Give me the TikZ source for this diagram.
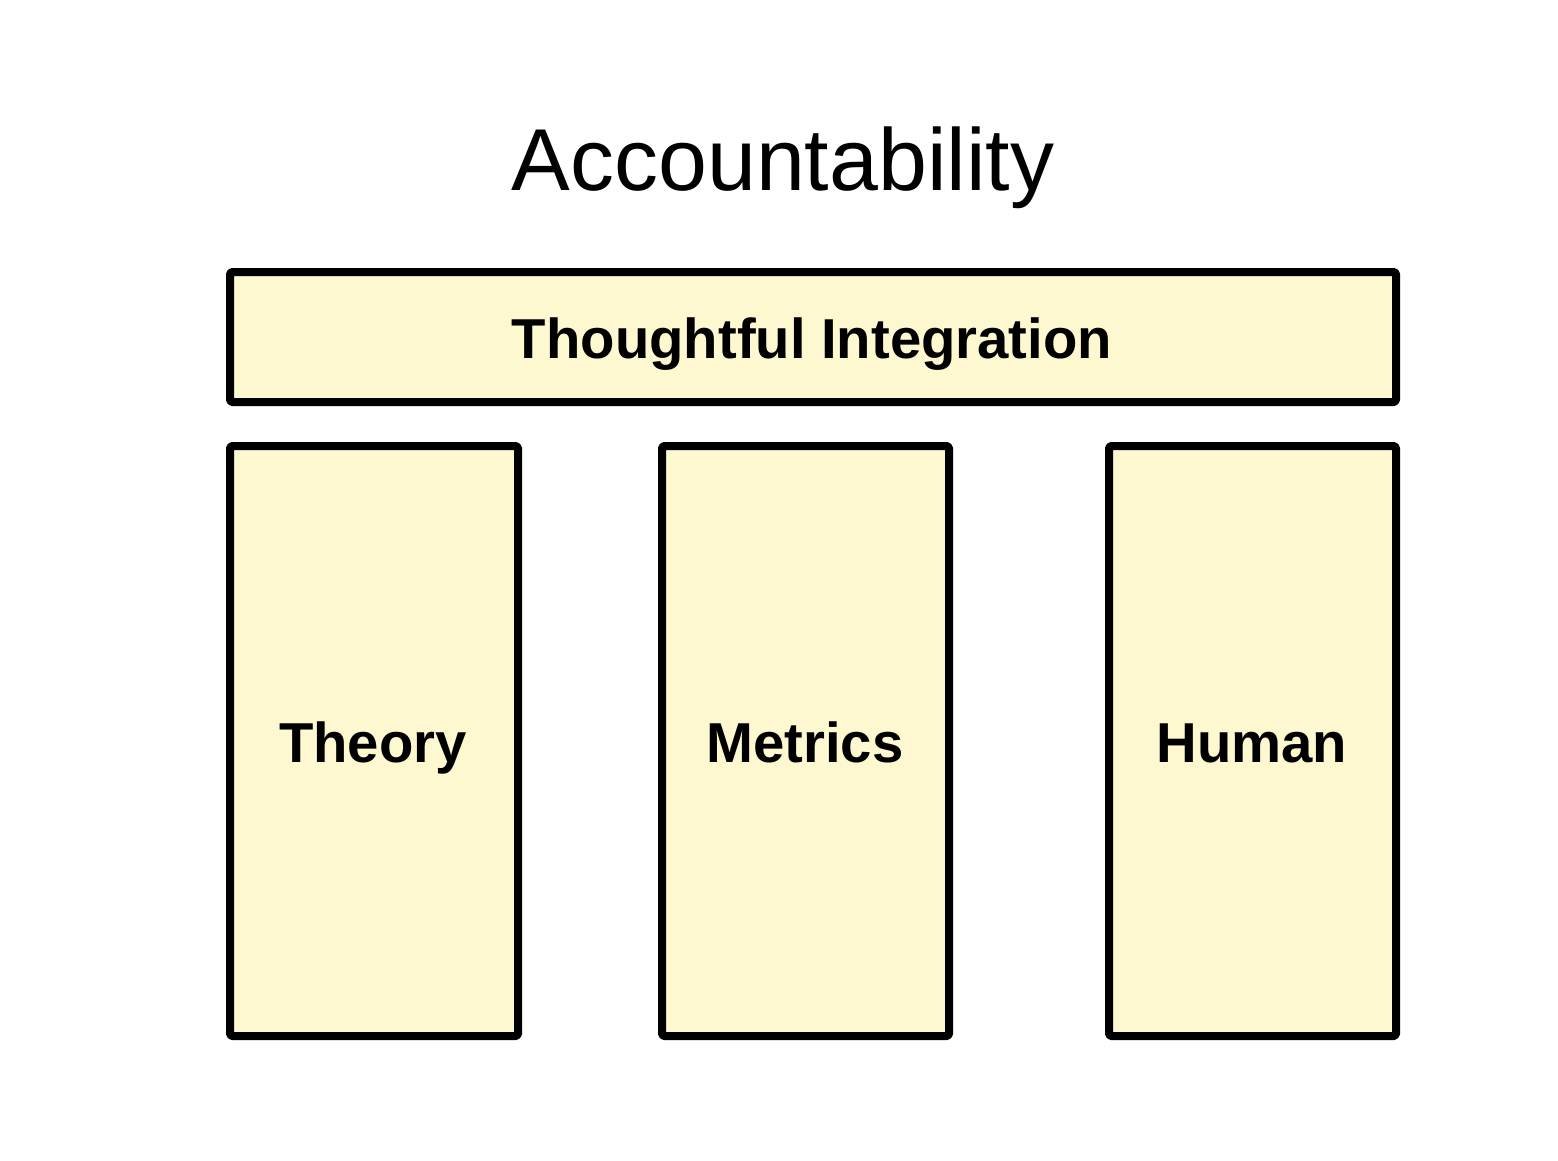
\documentclass[tikz,border=0pt]{standalone}
\usepackage{fontspec}
\setmainfont{Liberation Sans}
\definecolor{boxfill}{HTML}{FDF8D0}
\begin{document}
\begin{tikzpicture}[x=0.01cm,y=-0.01cm,
  pillar/.style={draw=black,fill=boxfill,line width=0.08cm,line join=round,rounded corners=0.5pt},
  lbl/.style={font=\fontsize{16pt}{19pt}\selectfont\bfseries,anchor=base}]
\useasboundingbox (0,0) rectangle (1558,1160);
\node[font=\fontsize{25pt}{30pt}\selectfont,anchor=base] (title) at (783,190) {Accountability};
\draw[pillar] (230,272) rectangle (1396,402);
\node[lbl] (ti) at (812,358) {Thoughtful Integration};
\draw[pillar] (230,446) rectangle (518,1036);
\draw[pillar] (662,446) rectangle (949,1036);
\draw[pillar] (1109,446) rectangle (1396,1036);
\node[lbl] (th) at (373,762) {Theory};
\node[lbl] (me) at (805,762) {Metrics};
\node[lbl] (hu) at (1252,762) {Human};
\end{tikzpicture}
\end{document}
